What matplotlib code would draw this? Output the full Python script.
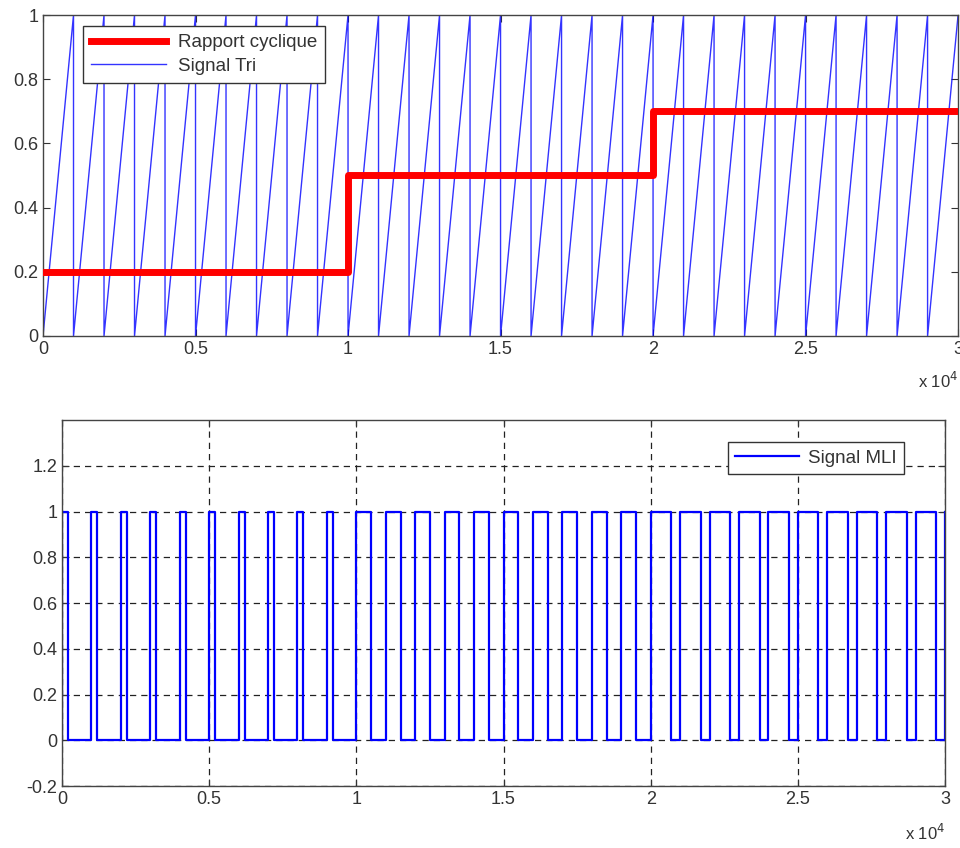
import matplotlib
matplotlib.use('Agg')
import matplotlib.pyplot as plt
import numpy as np
from matplotlib.ticker import FuncFormatter

matplotlib.rcParams['font.family'] = ['Liberation Sans', 'DejaVu Sans']
matplotlib.rcParams['font.size'] = 13

# duty cycle steps (x in samples, value)
duty_edges = [0, 10000, 20000, 30000]
duty_levels = [0.2, 0.5, 0.7]
# carrier sawtooth: one tooth every 1000 samples, ramp 0 -> 1
tri_period = 1000
tri_min, tri_max = 0.0, 1.0

# sawtooth vertices: ramp up then vertical drop
tooth_starts = list(range(duty_edges[0], duty_edges[-1], tri_period))
tri_t, tri_y = [], []
for t0 in tooth_starts:
    tri_t += [t0, t0 + tri_period]
    tri_y += [tri_min, tri_max]

# duty cycle as a step line
duty_t = [duty_edges[0]]
duty_y = [duty_levels[0]]
for i, lvl in enumerate(duty_levels):
    duty_t += [duty_edges[i], duty_edges[i + 1]]
    duty_y += [lvl, lvl]

# PWM: high while carrier < duty
pwm_t, pwm_y = [0], [0]
for t0 in tooth_starts:
    d = duty_levels[np.searchsorted(duty_edges, t0, side='right') - 1]
    ton = t0 + d * tri_period
    pwm_t += [t0, ton, ton, t0 + tri_period]
    pwm_y += [1, 1, 0, 0]
pwm_t += [duty_edges[-1]]
pwm_y += [1]

fig = plt.figure(figsize=(9.6, 8.48), dpi=100)
fmt = FuncFormatter(lambda v, p: ('%g' % (v / 1e4)))

# --- top: duty cycle + sawtooth
ax1 = fig.add_axes([0.0448, 0.6038, 0.9532, 0.3785])
ax1.plot(duty_t, duty_y, color='#ff0000', linewidth=5, label='Rapport cyclique', zorder=3)
ax1.plot(tri_t, tri_y, color='#0000ff', linewidth=1.0, alpha=0.8, label='Signal Tri', zorder=2)
ax1.set_xlim(0, 30000)
ax1.set_ylim(0, 1)
ax1.set_yticks([0, 0.2, 0.4, 0.6, 0.8, 1])
ax1.set_yticklabels(['0', '0.2', '0.4', '0.6', '0.8', '1'])
ax1.set_xticks([0, 5000, 10000, 15000, 20000, 25000, 30000])
ax1.xaxis.set_major_formatter(fmt)
leg1 = ax1.legend(loc='upper left', bbox_to_anchor=(0.0437, 0.967), fancybox=False,
                  edgecolor='#333333', framealpha=1, handlelength=4.0, borderpad=0.45,
                  labelspacing=0.35, fontsize=13.5, handletextpad=0.6, borderaxespad=0)
leg1.get_frame().set_linewidth(1.0)
for t in leg1.get_texts():
    t.set_color('#333333')
ax1.text(1.0, -0.11, r'x 10$^4$', transform=ax1.transAxes, ha='right', va='top',
         fontsize=12, color='#333333')

# --- bottom: PWM signal
ax2 = fig.add_axes([0.0646, 0.0731, 0.9198, 0.4316])
ax2.plot(pwm_t, pwm_y, color='#0000ff', linewidth=1.6, label='Signal MLI')
ax2.set_xlim(0, 30000)
ax2.set_ylim(-0.2, 1.4)
ax2.set_yticks([-0.2, 0, 0.2, 0.4, 0.6, 0.8, 1, 1.2])
ax2.set_yticklabels(['-0.2', '0', '0.2', '0.4', '0.6', '0.8', '1', '1.2'])
ax2.set_xticks([0, 5000, 10000, 15000, 20000, 25000, 30000])
ax2.xaxis.set_major_formatter(fmt)
ax2.grid(True, linestyle=(0, (5, 4)), color='#222222', linewidth=0.9)
leg2 = ax2.legend(loc='upper right', bbox_to_anchor=(0.954, 0.94), fancybox=False,
                  edgecolor='#333333', framealpha=1, handlelength=3.4, borderpad=0.4,
                  fontsize=13.5, handletextpad=0.5, borderaxespad=0)
leg2.get_frame().set_linewidth(1.0)
for t in leg2.get_texts():
    t.set_color('#333333')
ax2.text(1.0, -0.1, r'x 10$^4$', transform=ax2.transAxes, ha='right', va='top',
         fontsize=12, color='#333333')

for ax in (ax1, ax2):
    ax.tick_params(direction='in', top=True, right=True, length=5, colors='#333333',
                   labelsize=13, labelcolor='#333333')
    for s in ax.spines.values():
        s.set_color('#444444')
        s.set_linewidth(1.0)

plt.savefig('out.png', dpi=100)
